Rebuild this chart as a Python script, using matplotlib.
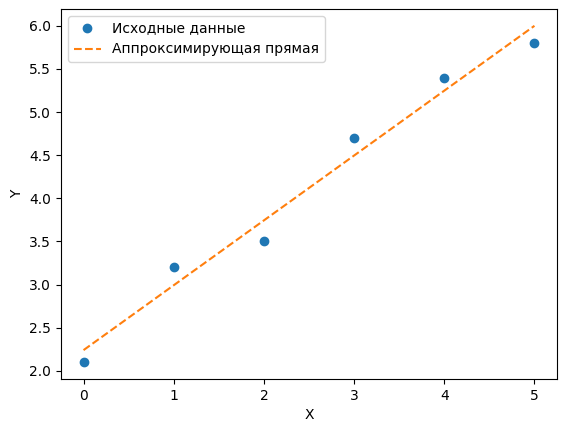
import matplotlib
matplotlib.use("Agg")
from matplotlib import pyplot as plt

# исходные точки
x_data = [0, 1, 2, 3, 4, 5]
y_data = [2.1, 3.2, 3.5, 4.7, 5.4, 5.8]

# аппроксимирующая прямая (концы)
x_line = [0, 5]
y_line = [2.24, 6.0]

fig, ax = plt.subplots(figsize=(5.67, 4.32), dpi=100)
fig.subplots_adjust(left=61/567, right=557/567, top=1-9/432, bottom=1-379/432)
ax.plot(x_data, y_data, 'o', label='Исходные данные')
ax.plot(x_line, y_line, '--', label='Аппроксимирующая прямая')
ax.set_xlabel('X')
ax.set_ylabel('Y')
ax.legend()
fig.savefig('out.png')
